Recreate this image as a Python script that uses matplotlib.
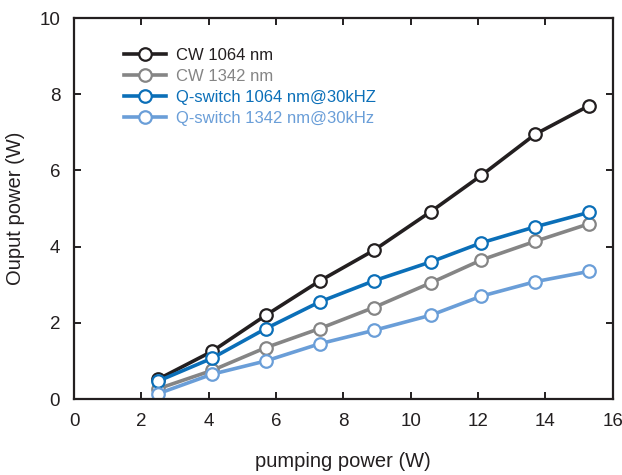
import matplotlib

matplotlib.use("Agg")
import matplotlib.pyplot as plt

plt.rcParams["font.family"] = ["Liberation Sans", "DejaVu Sans"]

pump = [2.5, 4.1, 5.7, 7.3, 8.9, 10.6, 12.1, 13.7, 15.3]
cw_1064 = [0.52, 1.25, 2.2, 3.1, 3.9, 4.92, 5.87, 6.95, 7.7]
cw_1342 = [0.27, 0.75, 1.35, 1.85, 2.4, 3.05, 3.65, 4.14, 4.6]
qs_1064 = [0.47, 1.07, 1.85, 2.55, 3.1, 3.6, 4.1, 4.52, 4.9]
qs_1342 = [0.14, 0.65, 1.0, 1.45, 1.8, 2.2, 2.7, 3.08, 3.35]

series = [
    ("CW 1064 nm", cw_1064, "#231f20"),
    ("CW 1342 nm", cw_1342, "#858585"),
    ("Q-switch 1064 nm@30kHZ", qs_1064, "#0b6fb8"),
    ("Q-switch 1342 nm@30kHz", qs_1342, "#6a9ed8"),
]

fig = plt.figure(figsize=(6.22, 4.75), dpi=100)
ax = fig.add_axes([0.119, 0.16, 0.866, 0.802])

for label, vals, color in series:
    ax.plot(pump, vals, color=color, lw=2.6, marker="o", ms=9,
            mfc="white", mec=color, mew=1.6, label=label)

ax.set_xlim(0, 16)
ax.set_ylim(0, 10)
ax.set_xticks(range(0, 17, 2))
ax.set_yticks(range(0, 11, 2))
ax.tick_params(direction="in", length=5, width=1.4, top=True, right=True,
               labelsize=13.5, pad=10, colors="#231f20")
for s in ax.spines.values():
    s.set_linewidth(1.6)
    s.set_color("#231f20")

ax.set_xlabel("pumping power (W)", fontsize=14.5, labelpad=16, color="#231f20")
ax.set_ylabel("Ouput power (W)", fontsize=14.5, labelpad=10, color="#231f20")

leg = ax.legend(loc="upper left", bbox_to_anchor=(0.065, 0.96), frameon=False,
                fontsize=12, handlelength=2.5, handletextpad=0.6,
                labelspacing=0.35)
for text, (_, _, color) in zip(leg.get_texts(), series):
    text.set_color(color)

fig.savefig("out.png", dpi=100)
